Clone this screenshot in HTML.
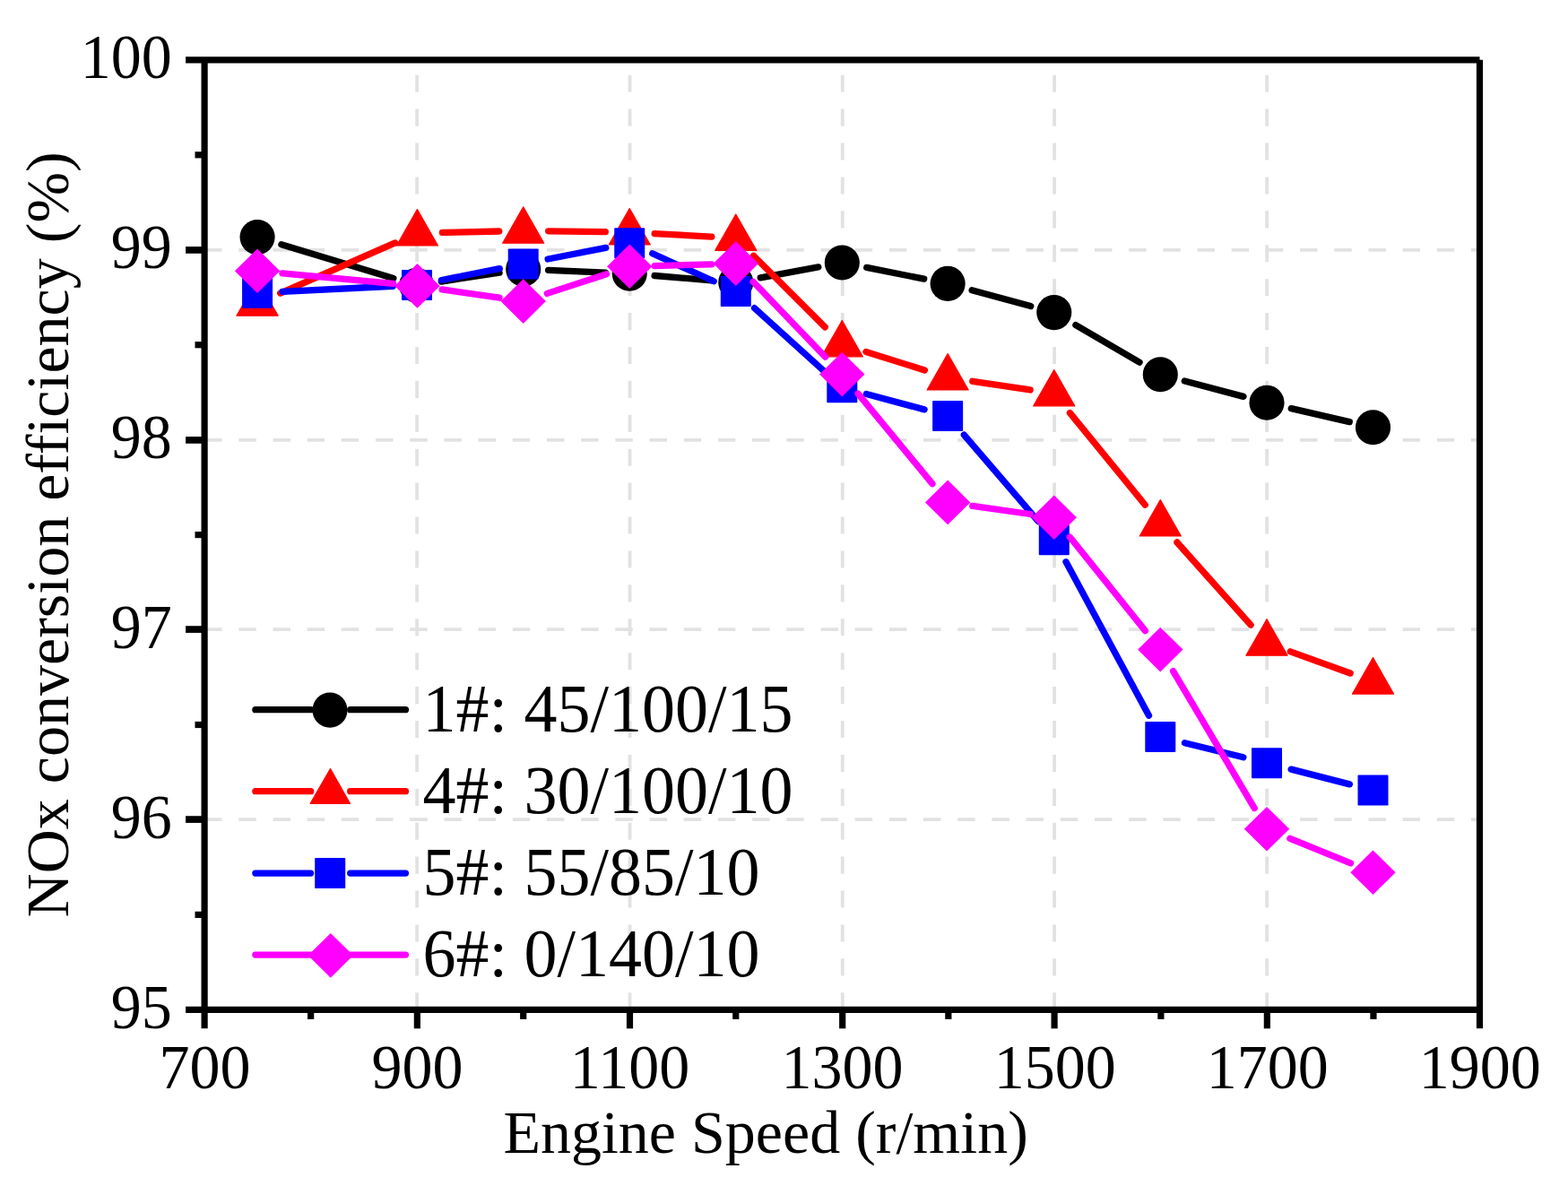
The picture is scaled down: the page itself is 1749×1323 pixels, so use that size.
<!DOCTYPE html>
<html lang="en">
<head>
<meta charset="utf-8">
<title>NOx conversion efficiency vs engine speed</title>
<style>
html,body{margin:0;padding:0;background:#fff;}
body{width:1749px;height:1323px;overflow:hidden;}
svg{display:block;}
text{font-family:"Liberation Serif", serif;fill:#000;}
</style>
</head>
<body>
<svg width="1749" height="1323" viewBox="0 0 1749 1323">
<rect width="1749" height="1323" fill="#ffffff"/>
<g stroke="#e2e2e2" stroke-width="3.85" fill="none">
<line x1="465.15" y1="1126.35" x2="465.15" y2="66.85" stroke-dasharray="19.1 18.81"/>
<line x1="702.55" y1="1126.35" x2="702.55" y2="66.85" stroke-dasharray="19.1 18.81"/>
<line x1="939.75" y1="1126.35" x2="939.75" y2="66.85" stroke-dasharray="19.1 18.81"/>
<line x1="1176.07" y1="1126.35" x2="1176.07" y2="66.85" stroke-dasharray="19.1 18.81"/>
<line x1="1413.15" y1="1126.35" x2="1413.15" y2="66.85" stroke-dasharray="19.1 18.81"/>
<line x1="228.1" y1="278.94" x2="1650.5" y2="278.94" stroke-dasharray="19.45 18.737"/>
<line x1="228.1" y1="490.94" x2="1650.5" y2="490.94" stroke-dasharray="19.45 18.737"/>
<line x1="228.1" y1="702.12" x2="1650.5" y2="702.12" stroke-dasharray="19.45 18.737"/>
<line x1="228.1" y1="914.12" x2="1650.5" y2="914.12" stroke-dasharray="19.45 18.737"/>
</g>
<g id="s-black">
<path d="M313.823 272.682L438.868 310.457M492.301 314.06L557.055 304.24M611.625 301.378L675.307 304.064M730.088 307.503L793.908 312.779M848.247 309.9L912.803 297.918M966.715 298.444L1030.7 311.151M1084.107 323.721L1149.758 341.541M1199.904 362.692L1271.026 404.213M1321.315 424.967L1386.984 442.389M1440.265 455.597L1505.26 470.628" stroke="#000000" stroke-width="7.3" stroke-linecap="round" fill="none"/>
<circle cx="287.067" cy="264.6" r="19.55" fill="#000000"/>
<circle cx="464.667" cy="318.25" r="19.55" fill="#000000"/>
<circle cx="583.7" cy="300.2" r="19.55" fill="#000000"/>
<circle cx="702.233" cy="305.2" r="19.55" fill="#000000"/>
<circle cx="820.767" cy="315" r="19.55" fill="#000000"/>
<circle cx="939.3" cy="293" r="19.55" fill="#000000"/>
<circle cx="1057.133" cy="316.4" r="19.55" fill="#000000"/>
<circle cx="1175.767" cy="348.6" r="19.55" fill="#000000"/>
<circle cx="1294.3" cy="417.8" r="19.55" fill="#000000"/>
<circle cx="1413.033" cy="449.3" r="19.55" fill="#000000"/>
<circle cx="1531.517" cy="476.7" r="19.55" fill="#000000"/>
</g>
<g id="s-red">
<path d="M312.664 327.076L440.735 270.922M493.359 259.462L556.757 258.015M611.647 257.801L675.286 258.714M730.143 260.607L793.856 264.047M840.533 285.261L920.241 364.946M965.96 392.394L1031.427 413.006M1084.771 425.27L1149.118 434.979M1193.449 460.646L1277.25 563.229M1312.898 604.964L1395.101 697.182M1439.314 726.815L1506.177 751.025" stroke="#ff0000" stroke-width="7.3" stroke-linecap="round" fill="none"/>
<polygon points="287.067,311.74 310.117,352.14 264.017,352.14" fill="#ff0000" stroke="#ff0000" stroke-width="1.2" stroke-linejoin="round"/>
<polygon points="465.417,233.54 488.467,273.94 442.367,273.94" fill="#ff0000" stroke="#ff0000" stroke-width="1.2" stroke-linejoin="round"/>
<polygon points="583.7,230.84 606.75,271.24 560.65,271.24" fill="#ff0000" stroke="#ff0000" stroke-width="1.2" stroke-linejoin="round"/>
<polygon points="702.233,232.54 725.283,272.94 679.183,272.94" fill="#ff0000" stroke="#ff0000" stroke-width="1.2" stroke-linejoin="round"/>
<polygon points="820.767,238.94 843.817,279.34 797.717,279.34" fill="#ff0000" stroke="#ff0000" stroke-width="1.2" stroke-linejoin="round"/>
<polygon points="939.3,357.44 962.35,397.84 916.25,397.84" fill="#ff0000" stroke="#ff0000" stroke-width="1.2" stroke-linejoin="round"/>
<polygon points="1057.133,394.54 1080.183,434.94 1034.083,434.94" fill="#ff0000" stroke="#ff0000" stroke-width="1.2" stroke-linejoin="round"/>
<polygon points="1175.767,412.44 1198.817,452.84 1152.717,452.84" fill="#ff0000" stroke="#ff0000" stroke-width="1.2" stroke-linejoin="round"/>
<polygon points="1294.3,557.54 1317.35,597.94 1271.25,597.94" fill="#ff0000" stroke="#ff0000" stroke-width="1.2" stroke-linejoin="round"/>
<polygon points="1413.033,690.74 1436.083,731.14 1389.983,731.14" fill="#ff0000" stroke="#ff0000" stroke-width="1.2" stroke-linejoin="round"/>
<polygon points="1531.517,733.64 1554.567,774.04 1508.467,774.04" fill="#ff0000" stroke="#ff0000" stroke-width="1.2" stroke-linejoin="round"/>
</g>
<g id="s-blue">
<path d="M314.982 325.404L438.1 319.246M492.434 312.471L557.263 299.635M611.13 289.031L675.785 276.377M727.693 282.734L796.218 313.779M841.488 343.657L919.32 414.114M966.29 439.461L1031.109 456.899M1075.331 485.114L1158.22 581.745M1189.033 626.801L1281.508 798.279M1321.441 828.675L1386.863 844.764M1440.106 858.146L1505.412 874.902" stroke="#0000ff" stroke-width="7.3" stroke-linecap="round" fill="none"/>
<rect x="270.067" y="309.8" width="34" height="34" rx="0.9" fill="#0000ff"/>
<rect x="448.017" y="300.9" width="34" height="34" rx="0.9" fill="#0000ff"/>
<rect x="566.7" y="277.4" width="34" height="34" rx="0.9" fill="#0000ff"/>
<rect x="685.233" y="254.2" width="34" height="34" rx="0.9" fill="#0000ff"/>
<rect x="803.767" y="307.9" width="34" height="34" rx="0.9" fill="#0000ff"/>
<rect x="922.3" y="415.2" width="34" height="34" rx="0.9" fill="#0000ff"/>
<rect x="1040.133" y="446.9" width="34" height="34" rx="0.9" fill="#0000ff"/>
<rect x="1158.767" y="585.2" width="34" height="34" rx="0.9" fill="#0000ff"/>
<rect x="1277.3" y="805" width="34" height="34" rx="0.9" fill="#0000ff"/>
<rect x="1396.033" y="834.2" width="34" height="34" rx="0.9" fill="#0000ff"/>
<rect x="1514.517" y="864.6" width="34" height="34" rx="0.9" fill="#0000ff"/>
</g>
<g id="s-magenta">
<path d="M314.895 304.805L438.634 316.388M493.126 322.924L557.031 332.22M610.263 327.405L676.621 305.684M730.173 296.546L793.826 294.827M840.121 314.265L920.638 398.157M957.089 439.158L1039.981 539.613M1084.804 564.342L1149.086 573.499M1193.289 599.075L1277.404 703.604M1308.563 748.637L1399.281 901.523M1438.9 935.288L1506.575 962.991" stroke="#ff00ff" stroke-width="7.3" stroke-linecap="round" fill="none"/>
<polygon points="287.067,277.4 312.267,302.2 287.067,327 261.867,302.2" fill="#ff00ff"/>
<polygon points="465.467,294.1 490.667,318.9 465.467,343.7 440.267,318.9" fill="#ff00ff"/>
<polygon points="583.7,311.3 608.9,336.1 583.7,360.9 558.5,336.1" fill="#ff00ff"/>
<polygon points="702.233,272.5 727.433,297.3 702.233,322.1 677.033,297.3" fill="#ff00ff"/>
<polygon points="820.767,269.3 845.967,294.1 820.767,318.9 795.567,294.1" fill="#ff00ff"/>
<polygon points="939.3,392.8 964.5,417.6 939.3,442.4 914.1,417.6" fill="#ff00ff"/>
<polygon points="1057.133,535.6 1082.333,560.4 1057.133,585.2 1031.933,560.4" fill="#ff00ff"/>
<polygon points="1175.767,552.5 1200.967,577.3 1175.767,602.1 1150.567,577.3" fill="#ff00ff"/>
<polygon points="1294.3,699.8 1319.5,724.6 1294.3,749.4 1269.1,724.6" fill="#ff00ff"/>
<polygon points="1413.033,899.9 1438.233,924.7 1413.033,949.5 1387.833,924.7" fill="#ff00ff"/>
<polygon points="1531.517,948.4 1556.717,973.2 1531.517,998 1506.317,973.2" fill="#ff00ff"/>
</g>
<g stroke="#000" stroke-width="7.2" fill="none" stroke-linecap="butt">
<line x1="207.1" y1="66.85" x2="1650.5" y2="66.85"/>
<line x1="207.1" y1="1126.35" x2="1650.5" y2="1126.35"/>
<line x1="228.1" y1="66.85" x2="228.1" y2="1147.35"/>
<line x1="1650.5" y1="66.85" x2="1650.5" y2="1147.35"/>
<line x1="207.1" y1="278.92" x2="228.1" y2="278.92" stroke-width="7.7"/>
<line x1="207.1" y1="490.92" x2="228.1" y2="490.92" stroke-width="7.7"/>
<line x1="207.1" y1="702.08" x2="228.1" y2="702.08" stroke-width="7.7"/>
<line x1="207.1" y1="914.08" x2="228.1" y2="914.08" stroke-width="7.7"/>
<line x1="217.5" y1="172.8" x2="228.1" y2="172.8"/>
<line x1="217.5" y1="384.7" x2="228.1" y2="384.7"/>
<line x1="217.5" y1="596.6" x2="228.1" y2="596.6"/>
<line x1="217.5" y1="808.5" x2="228.1" y2="808.5"/>
<line x1="217.5" y1="1020.4" x2="228.1" y2="1020.4"/>
<line x1="465.35" y1="1126.35" x2="465.35" y2="1147.35"/>
<line x1="702.5" y1="1126.35" x2="702.5" y2="1147.35"/>
<line x1="939.7" y1="1126.35" x2="939.7" y2="1147.35"/>
<line x1="1176.1" y1="1126.35" x2="1176.1" y2="1147.35"/>
<line x1="1413.35" y1="1126.35" x2="1413.35" y2="1147.35"/>
<line x1="346.633" y1="1126.35" x2="346.633" y2="1136.95"/>
<line x1="583.7" y1="1126.35" x2="583.7" y2="1136.95"/>
<line x1="820.767" y1="1126.35" x2="820.767" y2="1136.95"/>
<line x1="1057.833" y1="1126.35" x2="1057.833" y2="1136.95"/>
<line x1="1294.9" y1="1126.35" x2="1294.9" y2="1136.95"/>
<line x1="1531.967" y1="1126.35" x2="1531.967" y2="1136.95"/>
</g>
<g font-size="68">
<text transform="translate(191.7 87.15) scale(1 1.022)" text-anchor="end">100</text>
<text transform="translate(191.7 299.05) scale(1 1.022)" text-anchor="end">99</text>
<text transform="translate(191.7 510.95) scale(1 1.022)" text-anchor="end">98</text>
<text transform="translate(191.7 722.85) scale(1 1.022)" text-anchor="end">97</text>
<text transform="translate(191.7 934.75) scale(1 1.022)" text-anchor="end">96</text>
<text transform="translate(191.7 1146.65) scale(1 1.022)" text-anchor="end">95</text>
<text transform="translate(228.4 1213.9) scale(1 1.022)" text-anchor="middle">700</text>
<text transform="translate(465.467 1213.9) scale(1 1.022)" text-anchor="middle">900</text>
<text transform="translate(702.533 1213.9) scale(1 1.022)" text-anchor="middle">1100</text>
<text transform="translate(939.6 1213.9) scale(1 1.022)" text-anchor="middle">1300</text>
<text transform="translate(1176.667 1213.9) scale(1 1.022)" text-anchor="middle">1500</text>
<text transform="translate(1413.733 1213.9) scale(1 1.022)" text-anchor="middle">1700</text>
<text transform="translate(1650.8 1213.9) scale(1 1.022)" text-anchor="middle">1900</text>
<text x="561.4" y="1286.2">Engine Speed (r/min)</text>
<text transform="translate(76.4 1023.4) rotate(-90)">NOx conversion efficiency (%)</text>
</g>
<g id="legend" font-size="74">
<path d="M284.85 791.65L346.6 791.65M390.7 791.65L452.45 791.65" stroke="#000000" stroke-width="7.3" stroke-linecap="round" fill="none"/>
<circle cx="368" cy="792.15" r="19.55" fill="#000000"/>
<text transform="translate(471.5 816.2) scale(1 1.022)">1#: 45/100/15</text>
<path d="M284.85 882.7L346.6 882.7M390.7 882.7L452.45 882.7" stroke="#ff0000" stroke-width="7.3" stroke-linecap="round" fill="none"/>
<polygon points="368.5,857.5 390.45,896.3 346.15,896.3" fill="#ff0000" stroke="#ff0000" stroke-width="1.2" stroke-linejoin="round"/>
<text transform="translate(471.5 906.9) scale(1 1.022)">4#: 30/100/10</text>
<path d="M284.85 974.05L346.6 974.05M390.7 974.05L452.45 974.05" stroke="#0000ff" stroke-width="7.3" stroke-linecap="round" fill="none"/>
<rect x="351.2" y="957.05" width="34" height="34" rx="0.9" fill="#0000ff"/>
<text transform="translate(471.5 997.9) scale(1 1.022)">5#: 55/85/10</text>
<path d="M284.85 1065.05L346.6 1065.05M390.7 1065.05L452.45 1065.05" stroke="#ff00ff" stroke-width="7.3" stroke-linecap="round" fill="none"/>
<polygon points="368.8,1041.05 394,1065.85 368.8,1090.65 343.6,1065.85" fill="#ff00ff"/>
<text transform="translate(471.5 1088.8) scale(1 1.022)">6#: 0/140/10</text>
</g>
</svg>
</body>
</html>
